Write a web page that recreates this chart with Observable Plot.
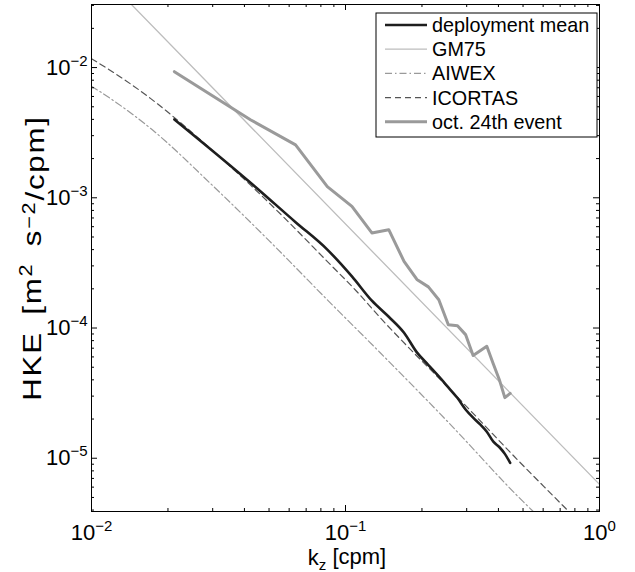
<!DOCTYPE html>
<html><head><meta charset="utf-8">
<script src="https://cdn.jsdelivr.net/npm/d3@7"></script>
<script src="https://cdn.jsdelivr.net/npm/@observablehq/plot@0.6"></script>
<style>
body{margin:0;background:#fff;}
#chart{width:635px;height:572px;}
</style></head><body><div id="chart"></div>
<script>
// ---- data ----
const kz = [0.0212,0.0424,0.0636,0.0848,0.106,0.127,0.148,0.170,0.191,0.212,0.233,0.254,0.276,0.297,0.318,0.339,0.360,0.382,0.403,0.424,0.445];
const deploymentMean = [4.0e-3,1.30e-3,6.5e-4,4.0e-4,2.49e-4,1.62e-4,1.22e-4,9.2e-5,6.5e-5,5.2e-5,4.25e-5,3.5e-5,2.9e-5,2.37e-5,2.05e-5,1.82e-5,1.6e-5,1.34e-5,1.22e-5,1.08e-5,9.2e-6];
const oct24Event = [9.3e-3,3.96e-3,2.55e-3,1.22e-3,8.6e-4,5.37e-4,5.69e-4,3.25e-4,2.36e-4,2.07e-4,1.65e-4,1.06e-4,1.04e-4,8.9e-5,6.15e-5,6.7e-5,7.24e-5,5.3e-5,4.03e-5,2.92e-5,3.15e-5];
const gm75K = [0.0142, 1];
const gm75E = [3.12e-2, 6.3e-6];
const aiwexK = [0.01,0.0125,0.01706,0.03,0.05,0.0847,0.137,0.25,0.503,0.6];
const aiwexE = [7.2e-3,5.4e-3,3.42e-3,1.24e-3,4.69e-4,1.65e-4,6.46e-5,1.95e-5,4.6e-6,3.3e-6];
const icortasK = [0.01,0.0125,0.01706,0.0193,0.03,0.0423,0.0571,0.0847,0.111,0.137,0.191,0.237,0.33,0.46,0.641,0.8];
const icortasE = [1.17e-2,8.9e-3,5.8e-3,4.8e-3,2.3e-3,1.25e-3,7.1e-4,3.25e-4,1.9e-4,1.2e-4,6.1e-5,4.0e-5,2.05e-5,1.04e-5,5.4e-6,3.5e-6];
const seriesNames = ["deployment mean","GM75","AIWEX","ICORTAS","oct. 24th event"];
const xTicks = [0.01, 0.1, 1];
const xTickLabels = ["10^−2","10^−1","10^0"];
const yTicks = [1e-5, 1e-4, 1e-3, 1e-2];
const yTickLabels = ["10^−5","10^−4","10^−3","10^−2"];
const xMinor = [0.02,0.03,0.04,0.05,0.06,0.07,0.08,0.09,0.2,0.3,0.4,0.5,0.6,0.7,0.8,0.9];
const yMinor = [4e-6,5e-6,6e-6,7e-6,8e-6,9e-6,2e-5,3e-5,4e-5,5e-5,6e-5,7e-5,8e-5,9e-5,2e-4,3e-4,4e-4,5e-4,6e-4,7e-4,8e-4,9e-4,2e-3,3e-3,4e-3,5e-3,6e-3,7e-3,8e-3,9e-3,2e-2,3e-2];

// ---- layout ----
const W = 635, H = 572, mL = 91, mR = 36, mT = 4, mB = 61;
const plotW = W - mL - mR, plotH = H - mT - mB;

// ---- styles ----
const styles = {
  "deployment mean": {stroke:"#1e1e1e", strokeWidth:2.6, dash:null, curve:"monotone-x"},
  "GM75": {stroke:"#bdbdbd", strokeWidth:1.3, dash:null, curve:"linear"},
  "AIWEX": {stroke:"#9a9a9a", strokeWidth:1.2, dash:"7,3,1.5,3", curve:"monotone-x"},
  "ICORTAS": {stroke:"#555555", strokeWidth:1.2, dash:"6,4", curve:"monotone-x"},
  "oct. 24th event": {stroke:"#9a9a9a", strokeWidth:3, dash:null, curve:"linear"}
};
const rows = (ks, es) => ks.map((k, i) => ({k, e: es[i]}));
const data = {
  "deployment mean": rows(kz, deploymentMean),
  "GM75": rows(gm75K, gm75E),
  "AIWEX": rows(aiwexK, aiwexE),
  "ICORTAS": rows(icortasK, icortasE),
  "oct. 24th event": rows(kz, oct24Event)
};
const drawOrder = ["GM75","AIWEX","ICORTAS","oct. 24th event","deployment mean"];
const lineMarks = drawOrder.map(n => Plot.line(data[n], {
  x: "k", y: "e", stroke: styles[n].stroke, strokeWidth: styles[n].strokeWidth,
  strokeDasharray: styles[n].dash, clip: true, strokeLinejoin: "round", curve: styles[n].curve
}));

// inward ticks on all four sides: rules inset so only a short stub remains at each frame edge
const tickMarks = [];
[[xTicks, 6], [xMinor, 3]].forEach(([vals, len]) => {
  tickMarks.push(Plot.ruleX(vals, {x: d => d, insetTop: plotH - len, stroke: "#000", strokeWidth: 1}));
  tickMarks.push(Plot.ruleX(vals, {x: d => d, insetBottom: plotH - len, stroke: "#000", strokeWidth: 1}));
});
[[yTicks, 6], [yMinor, 3]].forEach(([vals, len]) => {
  tickMarks.push(Plot.ruleY(vals, {y: d => d, insetRight: plotW - len, stroke: "#000", strokeWidth: 1}));
  tickMarks.push(Plot.ruleY(vals, {y: d => d, insetLeft: plotW - len, stroke: "#000", strokeWidth: 1}));
});

const ff = "'Liberation Sans', Arial, sans-serif";
const chart = Plot.plot({
  width: W, height: H,
  marginLeft: mL, marginRight: mR, marginTop: mT, marginBottom: mB,
  style: {fontFamily: ff, fontSize: "22px", background: "#fff", color: "#000"},
  x: {type: "log", domain: [0.01, 1]},
  y: {type: "log", domain: [3.9e-6, 0.0305]},
  marks: [
    ...lineMarks,
    ...tickMarks,
    Plot.axisX(xTicks, {anchor:"bottom", tickSize:0, tickPadding:13, tickFormat: d => xTickLabels[xTicks.indexOf(d)], label:null, fontSize:22}),
    Plot.axisY(yTicks, {anchor:"left", tickSize:0, tickPadding:4, tickFormat: d => yTickLabels[yTicks.indexOf(d)], label:null, fontSize:22}),
    Plot.frame({stroke:"#000", strokeWidth:1})
  ]
});
document.getElementById("chart").appendChild(chart);
const svgNode = chart.tagName.toLowerCase() === "svg" ? chart : chart.querySelector("svg");
const svg = d3.select(svgNode);

// superscript post-processing of tick labels
svg.selectAll('g[aria-label$="tick label"] text').each(function() {
  const t = this.textContent;
  if (!t.includes("^")) return;
  const [b, e] = t.split("^");
  const sel = d3.select(this);
  sel.text(null);
  sel.append("tspan").text(b);
  sel.append("tspan").attr("dy", "-0.6em").attr("font-size", "15px").text(e);
});

// axis labels
const xl = svg.append("text").attr("x", 347).attr("y", 565).attr("text-anchor", "middle")
  .attr("font-family", ff).attr("font-size", 22).attr("fill", "#000");
xl.append("tspan").text("k");
xl.append("tspan").attr("dy", "0.35em").attr("font-size", 15).text("z");
xl.append("tspan").attr("dy", "-0.27em").text(" [cpm]");

const yl = svg.append("text").attr("transform", "translate(41,258) rotate(-90) scale(1.2,1)").attr("text-anchor", "middle")
  .attr("font-family", ff).attr("font-size", 26).attr("fill", "#000")
  .attr("letter-spacing", 1.5).attr("word-spacing", 5);
yl.append("tspan").text("HKE [m");
yl.append("tspan").attr("dy", "-0.5em").attr("font-size", 18).text("2");
yl.append("tspan").attr("dy", "0.35em").text(" s");
yl.append("tspan").attr("dy", "-0.35em").attr("font-size", 18).text("−2");
yl.append("tspan").attr("dy", "0.35em").text("/cpm]");

// legend
const lg = svg.append("g").attr("font-family", ff).attr("font-size", 19.8).attr("text-anchor", "start");
lg.append("rect").attr("x", 376).attr("y", 13).attr("width", 221).attr("height", 124)
  .attr("fill", "#fff").attr("stroke", "#000").attr("stroke-width", 1);
seriesNames.forEach((n, i) => {
  const yy = 25 + i * 24.2;
  const s = styles[n];
  lg.append("line").attr("x1", 385).attr("x2", 427).attr("y1", yy).attr("y2", yy)
    .attr("stroke", s.stroke).attr("stroke-width", s.strokeWidth)
    .attr("stroke-dasharray", s.dash);
  lg.append("text").attr("x", 432).attr("y", yy).attr("dy", "0.35em").attr("fill", "#000").text(n);
});
</script>
</body></html>
